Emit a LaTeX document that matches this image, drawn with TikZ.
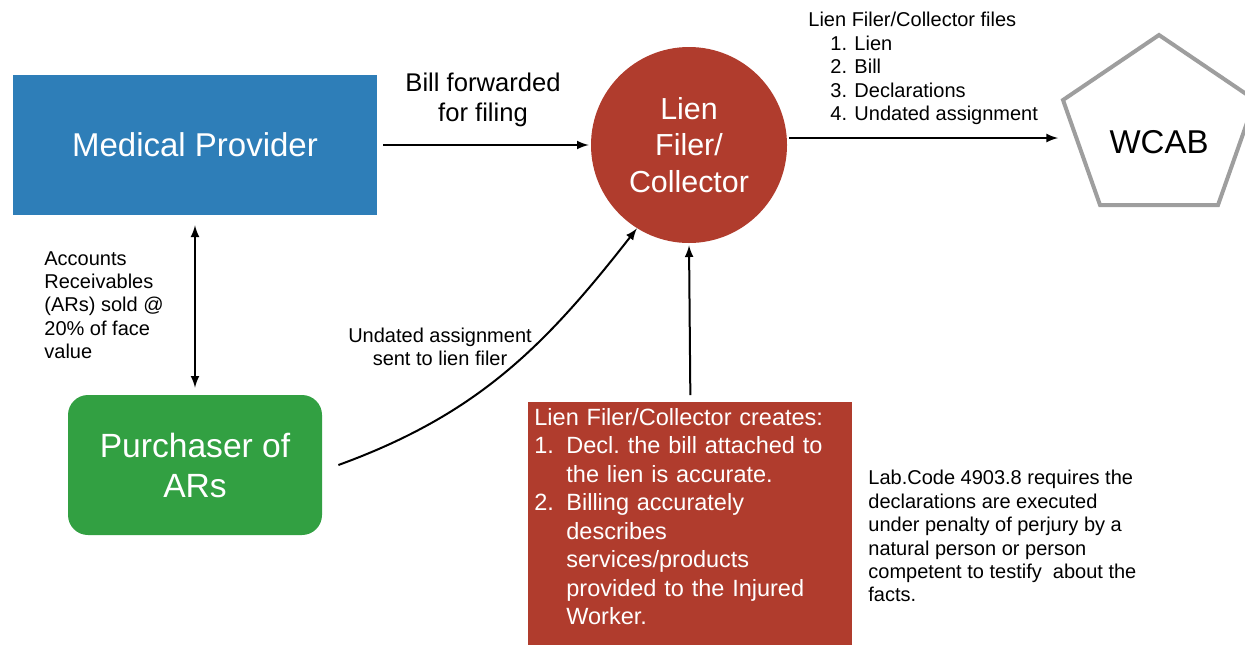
\documentclass[tikz,border=0pt]{standalone}
\usepackage{fontspec}
\setmainfont{Liberation Sans}
\definecolor{provblue}{RGB}{46,126,184}
\definecolor{buygreen}{RGB}{50,160,66}
\definecolor{lienred}{RGB}{176,60,45}
\definecolor{wcabgray}{RGB}{158,158,158}
\newcommand{\itemnum}[1]{\makebox[16pt][l]{#1}}
\newcommand{\itemgap}{\hspace*{16pt}}

\begin{document}
\begin{tikzpicture}[x=0.5pt,y=0.5pt,>=latex,
  every node/.style={inner sep=0pt},
  bigtext/.style={text=white,align=center},
  arr/.style={->,line width=1pt},
  note/.style={font=\fontsize{10}{11.7}\selectfont,align=left}]
\useasboundingbox (0,0) rectangle (1245,-644);

\node[fill=provblue,bigtext,minimum width=182pt,minimum height=70pt,font=\fontsize{16.5}{20}\selectfont] (prov) at (195,-145) {Medical Provider};
\node[circle,fill=lienred,bigtext,minimum size=98pt,font=\fontsize{15.2}{18.25}\selectfont] (lien) at (689,-145) {Lien\\Filer/\\Collector};
\node[fill=buygreen,rounded corners=10pt,bigtext,minimum width=127pt,minimum height=70pt,font=\fontsize{16.8}{20}\selectfont] (buyer) at (195,-465) {Purchaser of\\ARs};
\node[fill=lienred,text=white,anchor=north west,inner xsep=3pt,inner ysep=3pt,text width=156pt,align=left,font=\fontsize{11.75}{14.25}\selectfont] (creates) at (528,-402)
  {Lien Filer/Collector creates:\\
   \itemnum{1.}Decl.\ the bill attached to\\
   \itemgap the lien is accurate.\\
   \itemnum{2.}Billing accurately\\
   \itemgap describes\\
   \itemgap services/products\\
   \itemgap provided to the Injured\\
   \itemgap Worker.\rule[-20pt]{0pt}{0pt}};

% WCAB pentagon
\node[font=\fontsize{16.5}{20}\selectfont] (wcab) at (1159,-142) {WCAB};
\draw[wcabgray,line width=2pt] (1159,-35) -- (1063,-100) -- (1100,-205) -- (1218,-205) -- (1255,-100) -- cycle;
\coordinate (wcabin) at (1058,-138);

\draw[arr,shorten <=3pt,shorten >=1pt] (prov.east) -- (lien.west);
\draw[arr] (lien.east |- wcabin) ++(2,0) -- (wcabin);
\draw[arr,<->,shorten <=5pt,shorten >=3.5pt] (prov.south) -- (buyer.north);
\draw[arr] ([xshift=8pt]buyer.east) to[out=20,in=232] (lien.238);
\draw[arr,shorten <=3.5pt,shorten >=1pt] (creates.north) -- (lien.south);

\node[font=\fontsize{12.8}{15}\selectfont,align=center] (billlbl) at (483,-100) {Bill forwarded\\for filing};
\node[note,anchor=north west] (fileslbl) at (808,-12) {Lien Filer/Collector files\\
  \hspace*{11pt}1. Lien\\ \hspace*{11pt}2. Bill\\ \hspace*{11pt}3. Declarations\\ \hspace*{11pt}4. Undated assignment};
\node[note,anchor=north west] (arlbl) at (44,-251) {Accounts\\Receivables\\(ARs) sold @\\20\% of face\\value};
\node[note,align=center] (assignlbl) at (440,-347) {Undated assignment\\sent to lien filer};
\node[note,anchor=north west] (lablbl) at (868,-470) {Lab.Code 4903.8 requires the\\declarations are executed\\under penalty of perjury by a\\natural person or person\\competent to testify\ \ about the\\facts.};
\end{tikzpicture}
\end{document}
